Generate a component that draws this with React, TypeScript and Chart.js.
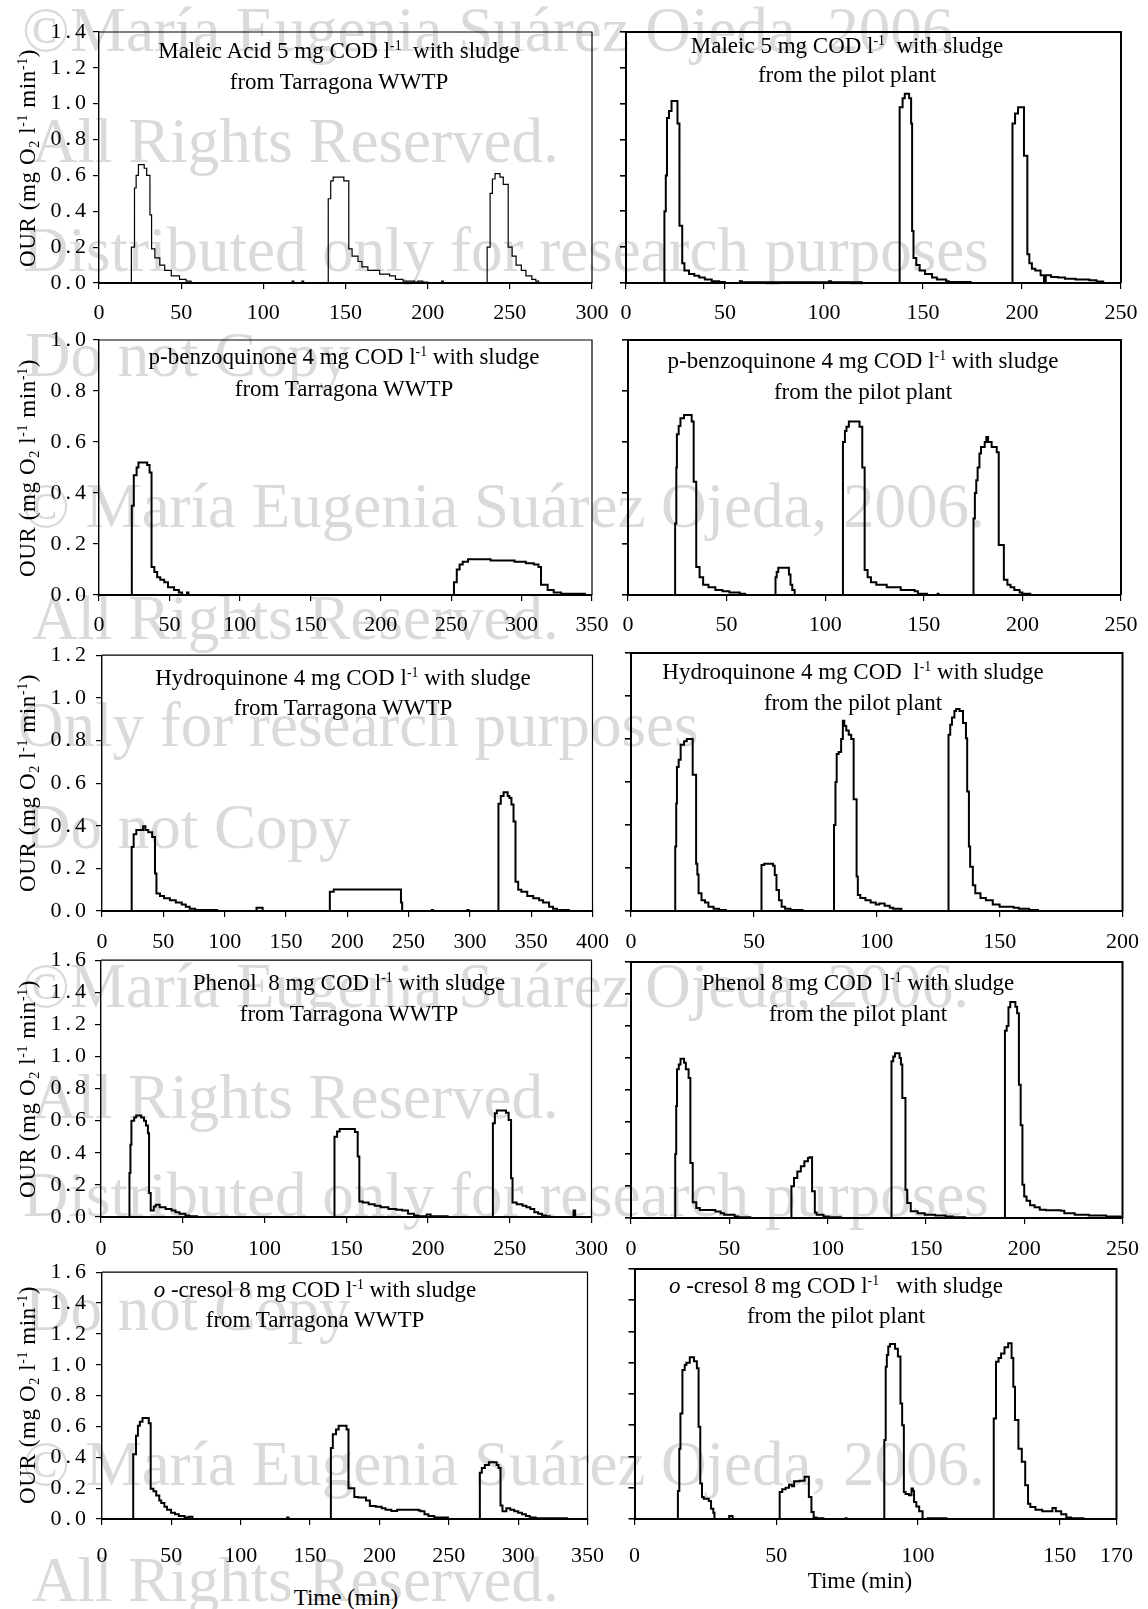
import React, { useEffect, useRef } from "react";
import { Chart, registerables } from "chart.js";

Chart.register(...registerables);

const SERIF = "'Liberation Serif', 'Times New Roman', Times, serif";
Chart.defaults.font.family = SERIF;
Chart.defaults.color = "#000";

// ---------- DATA: [time (min), OUR (mg O2 l-1 min-1)] step series ----------
const maleicWwtp = [[0,0],[19.7,0.2],[21.6,0.53],[22.6,0.6],[24,0.66],[27.5,0.64],[29,0.6],[31,0.38],[32,0.19],[34,0.14],[37,0.1],[40,0.07],[44,0.04],[49,0.02],[53,0.01],[56,0],[117.5,0.01],[118.5,0],[123.5,0.01],[124.5,0],[139.5,0.47],[141,0.57],[142.5,0.59],[149,0.57],[152,0.19],[154,0.15],[157.6,0.12],[160,0.09],[163.6,0.07],[170.8,0.05],[176.8,0.04],[180.4,0.02],[185,0.01],[192,0.005],[194,0.01],[197,0.005],[200,0],[208.5,0.01],[209.5,0],[236.2,0.2],[238,0.5],[239.4,0.58],[241,0.61],[244,0.59],[246,0.55],[249,0.2],[251.4,0.15],[253.8,0.1],[257,0.07],[259.8,0.04],[263.4,0.02],[265.8,0.01],[267.5,0],[300,0]];

const maleicPilot = [[0,0],[19.4,0.4],[20.1,0.6],[20.7,0.92],[21.7,0.96],[23,1.015],[26,0.89],[27,0.32],[28.4,0.11],[29.5,0.07],[31.8,0.05],[34.5,0.04],[37,0.03],[39.8,0.02],[43.3,0.01],[47,0.005],[50,0],[57.5,0.01],[58.5,0.004],[102.5,0.01],[103.5,0.004],[119,0],[138.2,0.98],[139.7,1.03],[140.8,1.056],[143,1.03],[144,0.89],[144.5,0.29],[145.2,0.14],[146.6,0.1],[148.3,0.07],[151,0.05],[154.6,0.03],[157,0.02],[161.7,0.01],[163,0.005],[174,0],[195.2,0.89],[196.5,0.945],[198,0.98],[201,0.71],[202.7,0.16],[203.7,0.11],[205,0.08],[206.7,0.07],[209.4,0.043],[211.1,0.005],[212,0.043],[214.7,0.033],[218.2,0.03],[221.7,0.024],[227,0.019],[234,0.015],[237.6,0.009],[241,0]];

const benzoWwtp = [[0,0],[23.3,0.35],[24.7,0.47],[26.7,0.5],[28,0.52],[34.2,0.51],[35.9,0.48],[37.3,0.11],[39.3,0.09],[41.3,0.07],[43.5,0.06],[46.3,0.05],[49,0.03],[53.3,0.02],[56.7,0.01],[59,0],[62.5,0.01],[63.5,0],[252,0.05],[254,0.1],[256,0.12],[258.2,0.13],[262,0.14],[278,0.135],[295,0.13],[303,0.125],[308.7,0.12],[312,0.11],[313.8,0.04],[318.5,0.02],[322.8,0.01],[328,0.005],[345,0],[350,0]];

const benzoPilot = [[0,0],[23.9,0.28],[24.5,0.5],[24.8,0.63],[25.7,0.663],[26.6,0.693],[28.4,0.706],[32.3,0.68],[33.3,0.444],[34.6,0.11],[36.3,0.07],[38.1,0.04],[40.8,0.03],[44.3,0.02],[47.9,0.015],[51.4,0.01],[56.7,0.005],[59.4,0],[74.8,0.07],[75.4,0.09],[76.2,0.107],[81.6,0.08],[82.4,0.04],[83.3,0.02],[84.5,0],[109,0.6],[110,0.643],[110.8,0.66],[112,0.68],[117.4,0.66],[118.8,0.5],[120,0.098],[121.5,0.07],[123.2,0.05],[125.9,0.04],[131.2,0.03],[138.3,0.02],[145.4,0.015],[147,0.005],[151.6,0],[157,0.005],[157.5,0],[175.2,0.3],[175.9,0.4],[176.6,0.45],[177.3,0.5],[178.2,0.555],[179,0.58],[180.9,0.6],[181.7,0.62],[182.6,0.6],[184.4,0.58],[187,0.56],[188,0.196],[190.6,0.06],[192.4,0.04],[194,0.03],[195.9,0.02],[198.6,0.01],[200,0.005],[204,0]];

const hydroWwtp = [[0,0],[24.2,0.3],[25.8,0.36],[28,0.38],[33.5,0.397],[35.4,0.38],[37.7,0.37],[40.9,0.347],[43.2,0.176],[44.4,0.082],[47.3,0.07],[50.6,0.06],[55.4,0.05],[60.2,0.04],[65,0.03],[68.3,0.02],[71.5,0.01],[76,0.005],[94,0],[126,0.015],[131,0],[185.8,0.09],[189,0.101],[243.8,0.04],[244.8,0],[269,0.005],[270,0],[298,0.005],[299,0],[323.3,0.503],[325.2,0.54],[327.5,0.557],[330.8,0.54],[332.3,0.53],[333.9,0.5],[335.6,0.42],[337.2,0.137],[339.4,0.1],[342,0.09],[346.8,0.07],[351.7,0.06],[356.5,0.05],[359.7,0.04],[364.6,0.02],[367.8,0.01],[371,0.005],[380.7,0],[393,0]];

const hydroPilot = [[0,0],[18,0.3],[18.4,0.5],[18.7,0.67],[19.4,0.703],[20.2,0.773],[21.6,0.79],[22.7,0.8],[25.1,0.634],[26.5,0.22],[27,0.17],[27.5,0.082],[28.7,0.05],[30.1,0.04],[31.5,0.02],[33.6,0.01],[35.8,0.005],[38.6,0],[53.1,0.214],[54.2,0.22],[57.8,0.21],[58.5,0.168],[59.2,0.098],[60.2,0.05],[61.3,0.02],[62.7,0.01],[64.9,0.005],[69.8,0],[82.6,0.4],[83.2,0.6],[83.7,0.73],[84.5,0.74],[85.5,0.8],[86.2,0.885],[86.8,0.86],[87.6,0.84],[88.6,0.82],[89.6,0.8],[90.6,0.52],[91.8,0.16],[92.3,0.075],[93.3,0.06],[95.4,0.05],[97.5,0.04],[99.6,0.03],[101,0.035],[103.2,0.025],[105.3,0.015],[106.7,0.01],[110,0],[129.2,0.82],[129.9,0.866],[130.6,0.9],[131.6,0.93],[132.3,0.94],[133.7,0.93],[135.1,0.874],[136.3,0.804],[136.8,0.556],[137.5,0.3],[138,0.206],[139.1,0.12],[140.1,0.082],[142.2,0.06],[144.4,0.05],[147.2,0.03],[150,0.02],[155.7,0.015],[157.8,0.01],[162,0.005],[165.6,0]];

const phenolWwtp = [[0,0],[17.4,0.274],[18,0.45],[18.6,0.6],[20.3,0.62],[21.5,0.632],[24.6,0.62],[26.3,0.6],[27.5,0.57],[28.7,0.522],[29.4,0.149],[30.4,0.04],[32.3,0.066],[33.5,0.077],[35.9,0.06],[39.5,0.05],[43.2,0.04],[45.6,0.03],[48,0.02],[51.6,0.01],[54,0.005],[58.8,0],[142.8,0.5],[144.4,0.533],[146,0.549],[155.3,0.53],[157,0.377],[158,0.097],[160.1,0.09],[163.7,0.08],[167.4,0.07],[171,0.06],[175.8,0.05],[180.6,0.045],[184.2,0.04],[187.8,0.02],[191.5,0.01],[193.9,0.005],[199.2,0.015],[201.6,0.005],[212,0],[239.7,0.584],[240.9,0.647],[242.1,0.663],[247.7,0.65],[249.3,0.605],[250.8,0.242],[251.7,0.091],[254.2,0.08],[257.8,0.07],[260.2,0.06],[262.6,0.05],[265,0.03],[267.4,0.02],[269.8,0.01],[272.2,0.005],[274.4,0],[289,0.041],[290,0]];

const phenolPilot = [[0,0],[22.5,0.4],[23,0.7],[23.4,0.93],[24.3,0.96],[25.2,0.996],[27,0.97],[27.9,0.93],[29.3,0.875],[30.2,0.344],[31.4,0.098],[33.2,0.0625],[35,0.05],[42.9,0.04],[45.6,0.03],[47.4,0.02],[52.7,0.01],[54.5,0.005],[60.7,0],[81.6,0.198],[82.9,0.25],[84.6,0.29],[86.4,0.323],[88.2,0.354],[90,0.375],[90.8,0.379],[92.1,0.167],[93.5,0.035],[94.4,0.02],[97.9,0.01],[100.6,0.005],[106.8,0],[132.5,0.979],[133.4,1.01],[134.3,1.03],[136.6,1.0],[137.3,0.96],[138,0.75],[139.6,0.177],[140.5,0.094],[142.3,0.042],[145.8,0.03],[149.4,0.02],[154.7,0.015],[160,0.01],[163.6,0.005],[169.8,0],[190.2,1.17],[191.1,1.2],[192,1.317],[192.9,1.35],[195.5,1.32],[196.4,1.28],[197.3,0.833],[198.2,0.58],[199.1,0.208],[200,0.135],[201.2,0.108],[203,0.079],[205.3,0.067],[207.9,0.052],[211,0.048],[218.6,0.045],[220.4,0.03],[225.7,0.021],[232.8,0.015],[241.7,0.01],[248.8,0.005],[250,0]];

const cresolWwtp = [[0,0],[22.5,0.42],[24.5,0.54],[25.9,0.604],[27.3,0.63],[29.2,0.654],[33.7,0.62],[35.1,0.196],[37.1,0.18],[39.1,0.153],[41.3,0.12],[42.7,0.103],[45,0.08],[46.9,0.06],[49.8,0.04],[52.6,0.03],[55.4,0.02],[59.6,0.01],[62.4,0.015],[65.2,0],[133.5,0.01],[134.5,0],[165,0.46],[166.4,0.55],[168.7,0.58],[170.6,0.604],[176.3,0.58],[177.7,0.2],[181.9,0.142],[184.7,0.14],[190.3,0.12],[193.1,0.084],[197.4,0.08],[201.6,0.07],[204.4,0.06],[208.6,0.052],[212.8,0.06],[228.3,0.055],[229.7,0.05],[232.5,0.03],[235.3,0.02],[239.5,0.01],[249.4,0],[272.4,0.3],[273.8,0.33],[276,0.35],[278.9,0.368],[284.5,0.35],[285.9,0.33],[287.3,0.088],[288.7,0.05],[291.5,0.07],[294.3,0.06],[297.2,0.05],[300,0.04],[302.8,0.03],[305.6,0.02],[308.4,0.01],[312.6,0.005],[335.1,0],[342,0]];

const cresolPilot = [[0,0],[15.3,0.18],[15.8,0.45],[16.2,0.676],[16.9,0.954],[17.7,0.986],[18.3,1.0],[19.5,1.035],[21,1.01],[22,0.965],[22.6,0.59],[23.2,0.227],[23.8,0.141],[24.4,0.13],[26.2,0.116],[27,0.066],[27.8,0.04],[28.2,0],[33.4,0.02],[34.6,0],[51.2,0.173],[52.1,0.19],[53.3,0.2],[54.5,0.22],[55.5,0.21],[56.3,0.242],[58.2,0.245],[60,0.27],[61.5,0.141],[62.4,0.045],[63.2,0.01],[64.2,0.005],[66.6,0],[74.4,0.005],[74.8,0],[88.1,0.505],[88.6,0.975],[89,1.05],[89.5,1.104],[90.1,1.12],[91.9,1.09],[92.9,1.04],[93.8,0.74],[94.4,0.6],[95,0.173],[95.6,0.16],[96.8,0.152],[97.7,0.195],[98.2,0.18],[98.6,0.109],[99.4,0.08],[100.4,0.05],[101.6,0],[103.4,0.005],[110,0],[126.7,0.644],[127.5,1.007],[128.4,1.03],[129.3,1.06],[130.5,1.1],[131.8,1.125],[133,1.03],[133.6,0.847],[134.2,0.633],[135.4,0.45],[136.6,0.366],[137.8,0.216],[138.8,0.098],[139.6,0.077],[141.4,0.06],[143.8,0.05],[147.4,0.07],[148.6,0.05],[150.5,0.03],[152.3,0.01],[154,0.005],[158.3,0],[160,0]];

// axis ranges / tick values
const xMaxes = { maleicWwtp: 300, maleicPilot: 250, benzoWwtp: 350, benzoPilot: 250, hydroWwtp: 400, hydroPilot: 200, phenolWwtp: 300, phenolPilot: 250, cresolWwtp: 350, cresolPilot: 170 };
const yMaxes = [1.4, 1.0, 1.2, 1.6, 1.6];
const cresolPilotXTicks = [0, 50, 100, 150, 170];

// ---------- LAYOUT ----------
type Panel = {
  data: number[][]; L: number; T: number; R: number; B: number;
  xMax: number; yMax: number; xTicks?: number[]; lw: number; left: boolean; xPad: number; padB: number;
};

const panels: Panel[] = [
  { data: maleicWwtp, L: 99, T: 32, R: 592, B: 283, xMax: xMaxes.maleicWwtp, yMax: yMaxes[0], lw: 1.2, left: true, xPad: 11, padB: 50 },
  { data: maleicPilot, L: 626, T: 32, R: 1121, B: 283, xMax: xMaxes.maleicPilot, yMax: yMaxes[0], lw: 2, left: false, xPad: 11, padB: 50 },
  { data: benzoWwtp, L: 99, T: 340, R: 592, B: 595, xMax: xMaxes.benzoWwtp, yMax: yMaxes[1], lw: 2, left: true, xPad: 11, padB: 50 },
  { data: benzoPilot, L: 628, T: 340, R: 1121, B: 595, xMax: xMaxes.benzoPilot, yMax: yMaxes[1], lw: 2, left: false, xPad: 11, padB: 50 },
  { data: hydroWwtp, L: 102, T: 654, R: 593, B: 911, xMax: xMaxes.hydroWwtp, yMax: yMaxes[2], lw: 2, left: true, xPad: 12, padB: 50 },
  { data: hydroPilot, L: 631, T: 653, R: 1123, B: 911, xMax: xMaxes.hydroPilot, yMax: yMaxes[2], lw: 2, left: false, xPad: 12, padB: 50 },
  { data: phenolWwtp, L: 101, T: 960, R: 593, B: 1217, xMax: xMaxes.phenolWwtp, yMax: yMaxes[3], lw: 2, left: true, xPad: 13, padB: 50 },
  { data: phenolPilot, L: 631, T: 962, R: 1123, B: 1218, xMax: xMaxes.phenolPilot, yMax: yMaxes[3], lw: 2, left: false, xPad: 12, padB: 50 },
  { data: cresolWwtp, L: 102, T: 1271, R: 594, B: 1519, xMax: xMaxes.cresolWwtp, yMax: yMaxes[4], lw: 2, left: true, xPad: 18, padB: 58 },
  { data: cresolPilot, L: 631, T: 1269, R: 1123, B: 1519, xMax: xMaxes.cresolPilot, yMax: yMaxes[4], xTicks: cresolPilotXTicks, lw: 2, left: false, xPad: 18, padB: 58 },
];

const Y_LETTER_SPACING = 4;

const boxPlugin = {
  id: "panelBox",
  afterDraw(chart: any, _args: any, opts: any) {
    const { ctx, chartArea } = chart;
    const { left, top, right, bottom } = chartArea;
    ctx.save();
    ctx.strokeStyle = "#000";
    ctx.lineWidth = opts.width || 1;
    ctx.beginPath();
    ctx.moveTo(left, top);
    ctx.lineTo(right, top);
    ctx.lineTo(right, bottom);
    ctx.stroke();
    ctx.restore();
  },
};

function PanelChart({ p }: { p: Panel }) {
  const ref = useRef<HTMLCanvasElement>(null);
  const padL = p.left ? 60 : 20;
  const padT = 18;
  const padR = 28;
  const W = p.R - p.L + padL + padR;
  const H = p.B - p.T + padT + p.padB;
  useEffect(() => {
    const chart = new Chart(ref.current as HTMLCanvasElement, {
      type: "line",
      data: {
        datasets: [
          {
            data: p.data.map((d) => ({ x: d[0], y: d[1] })),
            borderColor: "#000",
            backgroundColor: "#000",
            borderWidth: p.lw,
            pointRadius: 0,
            stepped: true,
            fill: false,
          },
        ],
      },
      options: {
        responsive: false,
        animation: false,
        events: [],
        layout: { padding: { left: 0, top: padT, right: padR, bottom: 0 } },
        plugins: {
          legend: { display: false },
          tooltip: { enabled: false },
          panelBox: { width: p.left ? 1.2 : 2 },
        },
        scales: {
          x: {
            type: "linear",
            min: 0,
            max: p.xMax,
            afterFit: (s: any) => { s.height = p.padB; },
            afterBuildTicks: p.xTicks
              ? (s: any) => { s.ticks = (p.xTicks as number[]).map((v) => ({ value: v })); }
              : undefined,
            ticks: {
              stepSize: 50,
              autoSkip: false,
              maxRotation: 0,
              padding: p.xPad,
              color: "#000",
              font: { family: SERIF, size: 22 },
              callback: (v: any) => String(v),
            },
            grid: { display: true, drawOnChartArea: false, drawTicks: true, tickLength: 6, color: "#000", lineWidth: 1.2 },
            border: { display: true, color: "#000", width: 2 },
          },
          y: {
            type: "linear",
            min: 0,
            max: p.yMax,
            afterFit: (s: any) => {
              s.width = padL;
              if (!s._lsPatched) {
                const orig = s.draw;
                s.draw = function (area: any) {
                  const c = this.ctx;
                  c.save();
                  c.letterSpacing = Y_LETTER_SPACING + "px";
                  orig.call(this, area);
                  c.restore();
                };
                s._lsPatched = true;
              }
            },
            ticks: {
              display: p.left,
              stepSize: 0.2,
              padding: p.left ? Math.max(1, p.L - 6 - 86 - Y_LETTER_SPACING) : 3,
              color: "#000",
              font: { family: SERIF, size: 22 },
              callback: (v: any) => Number(v).toFixed(1),
            },
            grid: { display: true, drawOnChartArea: false, drawTicks: true, tickLength: 6, color: "#000", lineWidth: p.left ? 1.2 : 1.6 },
            border: { display: true, color: "#000", width: p.left ? 1.4 : 2 },
          },
        },
      },
      plugins: [boxPlugin],
    } as any);
    return () => chart.destroy();
  }, []);
  return (
    <canvas
      ref={ref}
      width={W}
      height={H}
      style={{ position: "absolute", left: p.L - padL, top: p.T - padT, width: W, height: H, zIndex: 1 }}
    />
  );
}

const Sup = ({ c }: { c: string }) => (
  <sup style={{ fontSize: "0.6em", verticalAlign: "0.6em", lineHeight: 0 }}>{c}</sup>
);
const Sub = ({ c }: { c: string }) => (
  <sub style={{ fontSize: "0.62em", verticalAlign: "-0.28em", lineHeight: 0 }}>{c}</sub>
);

const TARR = "from Tarragona WWTP";
const PILOT = "from the pilot plant";

const titles: { cx: number; y1: number; y2: number; l1: React.ReactNode; l2: string }[] = [
  { cx: 339, y1: 51, y2: 82, l1: <>Maleic Acid 5 mg COD l<Sup c="-1" />{"  with sludge"}</>, l2: TARR },
  { cx: 847, y1: 46, y2: 75, l1: <>Maleic 5 mg COD l<Sup c="-1" />{"  with sludge"}</>, l2: PILOT },
  { cx: 344, y1: 357, y2: 389, l1: <>p-benzoquinone 4 mg COD l<Sup c="-1" />{" with sludge"}</>, l2: TARR },
  { cx: 863, y1: 361, y2: 392, l1: <>p-benzoquinone 4 mg COD l<Sup c="-1" />{" with sludge"}</>, l2: PILOT },
  { cx: 343, y1: 678, y2: 708, l1: <>Hydroquinone 4 mg COD l<Sup c="-1" />{" with sludge"}</>, l2: TARR },
  { cx: 853, y1: 672, y2: 703, l1: <>{"Hydroquinone 4 mg COD  l"}<Sup c="-1" />{" with sludge"}</>, l2: PILOT },
  { cx: 349, y1: 983, y2: 1014, l1: <>{"Phenol  8 mg COD l"}<Sup c="-1" />{" with sludge"}</>, l2: TARR },
  { cx: 858, y1: 983, y2: 1014, l1: <>{"Phenol 8 mg COD  l"}<Sup c="-1" />{" with sludge"}</>, l2: PILOT },
  { cx: 315, y1: 1290, y2: 1320, l1: <><i>o</i>{" -cresol 8 mg COD l"}<Sup c="-1" />{" with sludge"}</>, l2: TARR },
  { cx: 836, y1: 1286, y2: 1316, l1: <><i>o</i>{" -cresol 8 mg COD l"}<Sup c="-1" />{"   with sludge"}</>, l2: PILOT },
];

const watermark: [string, number, number][] = [
  ["\u00a9Mar\u00eda Eugenia Su\u00e1rez Ojeda, 2006.", 52, 22],
  ["All Rights Reserved.", 163, 32],
  ["Distributed only for research purposes", 272, 23],
  ["Do not Copy", 377, 25],
  ["\u00a9 Mar\u00eda Eugenia Su\u00e1rez Ojeda, 2006.", 528, 22],
  ["All Rights Reserved.", 640, 32],
  ["Only for research purposes", 747, 18],
  ["Do not Copy", 849, 25],
  ["\u00a9Mar\u00eda Eugenia Su\u00e1rez Ojeda, 2006.", 1008, 22],
  ["All Rights Reserved.", 1119, 32],
  ["Distributed only for research purposes", 1217, 23],
  ["Do not Copy", 1331, 25],
  ["\u00a9 Mar\u00eda Eugenia Su\u00e1rez Ojeda, 2006.", 1486, 22],
  ["All Rights Reserved.", 1602, 32],
];

function TextLine({ cx, cy, children, size = 23 }: { cx: number; cy: number; children: React.ReactNode; size?: number }) {
  return (
    <div
      style={{
        position: "absolute",
        left: cx - 300,
        top: cy - 15,
        width: 600,
        height: 30,
        lineHeight: "30px",
        textAlign: "center",
        fontSize: size,
        whiteSpace: "pre",
        color: "#000",
        zIndex: 2,
      }}
    >
      {children}
    </div>
  );
}

function YTitle({ cy }: { cy: number }) {
  return (
    <div
      style={{
        position: "absolute",
        left: 28 - 170,
        top: cy - 15,
        width: 340,
        height: 30,
        lineHeight: "30px",
        textAlign: "center",
        fontSize: 23,
        letterSpacing: "0.6px",
        whiteSpace: "pre",
        transform: "rotate(-90deg)",
        color: "#000",
        zIndex: 2,
      }}
    >
      OUR (mg O<Sub c="2" /> l<Sup c="-1" /> min<Sup c="-1" />)
    </div>
  );
}

export default function App() {
  return (
    <div
      style={{
        position: "absolute",
        left: 0,
        top: 0,
        width: 1148,
        height: 1609,
        overflow: "hidden",
        background: "#fff",
        fontFamily: SERIF,
      }}
    >
      {watermark.map(([txt, base, x], i) => (
        <div
          key={"w" + i}
          style={{
            position: "absolute",
            left: x,
            top: base - 53,
            fontSize: 63,
            lineHeight: "63px",
            color: "#dadada",
            whiteSpace: "pre",
            zIndex: 0,
          }}
        >
          {txt}
        </div>
      ))}
      {panels.map((p, i) => (
        <PanelChart key={"p" + i} p={p} />
      ))}
      {titles.map((t, i) => (
        <React.Fragment key={"t" + i}>
          <TextLine cx={t.cx} cy={t.y1}>{t.l1}</TextLine>
          <TextLine cx={t.cx} cy={t.y2}>{t.l2}</TextLine>
        </React.Fragment>
      ))}
      {panels.filter((p) => p.left).map((p, i) => (
        <YTitle key={"y" + i} cy={(p.T + p.B) / 2} />
      ))}
      <TextLine cx={346} cy={1598}>Time (min)</TextLine>
      <TextLine cx={860} cy={1581}>Time (min)</TextLine>
    </div>
  );
}
